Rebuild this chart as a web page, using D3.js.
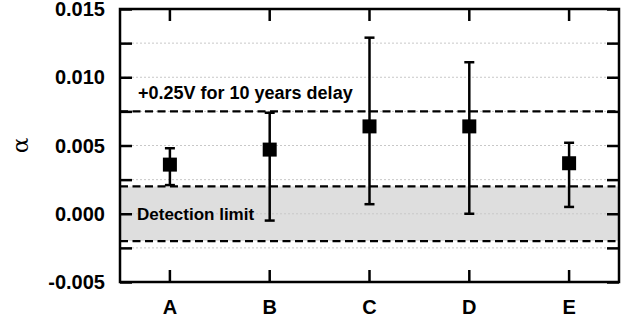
<!DOCTYPE html>
<html>
<head>
<meta charset="utf-8">
<script src="https://cdn.jsdelivr.net/npm/d3@7/dist/d3.min.js"></script>
<style>
  html, body {
    margin: 0;
    padding: 0;
    background: #ffffff;
  }
  svg {
    display: block;
    font-family: "Liberation Sans", Arial, sans-serif;
  }
</style>
</head>
<body>
<div id="chart"></div>
<script>

// data
const categories = ["A", "B", "C", "D", "E"];
const alphaValues = [0.0036, 0.0047, 0.0064, 0.0064, 0.0037];
const errorUpper  = [0.0048, 0.0074, 0.0129, 0.0111, 0.0052];
const errorLower  = [0.0021, -0.0005, 0.0007, 0.0000, 0.0005];

const yTickValues = [-0.005, 0.000, 0.005, 0.010, 0.015];
const yMinorTicks = [-0.0025, 0.0025, 0.0075, 0.0125];
const yDomain = [-0.005, 0.015];

const detectionLimit = [-0.002, 0.002];
const delayLine = 0.0075;
const delayLabel = "+0.25V for 10 years delay";
const detectionLabel = "Detection limit";
const yLabel = "\u03B1";

const width = 629;
const height = 323;

const margin = { top: 9, right: 10, bottom: 41, left: 120 };

const svg = d3.select("#chart")
  .append("svg")
  .attr("width", width)
  .attr("height", height);

const x = d3.scaleBand()
  .domain(categories)
  .range([margin.left, width - margin.right])
  .padding(0);

const y = d3.scaleLinear()
  .domain(yDomain)
  .range([height - margin.bottom, margin.top]);

const plotLeft = margin.left;
const plotRight = width - margin.right;
const plotTop = margin.top;
const plotBottom = height - margin.bottom;
const tickLen = 12;

// detection limit band
svg.append("rect")
  .attr("x", plotLeft)
  .attr("y", y(detectionLimit[1]))
  .attr("width", plotRight - plotLeft)
  .attr("height", y(detectionLimit[0]) - y(detectionLimit[1]))
  .attr("fill", "#dedede");

// dotted grid lines
const gridValues = yTickValues.concat(yMinorTicks)
  .filter(v => v > yDomain[0] && v < yDomain[1]);

svg.append("g")
  .selectAll("line")
  .data(gridValues)
  .join("line")
  .attr("x1", plotLeft)
  .attr("x2", plotRight)
  .attr("y1", d => y(d))
  .attr("y2", d => y(d))
  .attr("stroke", "#c8c8c8")
  .attr("stroke-width", 1)
  .attr("stroke-dasharray", "2,2");

// dashed reference lines
const dashed = [delayLine, detectionLimit[0], detectionLimit[1]];

svg.append("g")
  .selectAll("line")
  .data(dashed)
  .join("line")
  .attr("x1", plotLeft)
  .attr("x2", plotRight)
  .attr("y1", d => y(d))
  .attr("y2", d => y(d))
  .attr("stroke", "#000")
  .attr("stroke-width", 2.2)
  .attr("stroke-dasharray", "8,4.5");

// annotations
svg.append("text")
  .attr("x", plotLeft + 18)
  .attr("y", y(delayLine) - 12)
  .attr("font-size", 18)
  .attr("font-weight", "bold")
  .text(delayLabel);

svg.append("text")
  .attr("x", plotLeft + 17)
  .attr("y", y(0) + 6)
  .attr("font-size", 17)
  .attr("font-weight", "bold")
  .text(detectionLabel);

// axes: inward ticks on all four sides
const allYTicks = yTickValues.concat(yMinorTicks);

const yLeft = d3.axisRight(y)
  .tickValues(allYTicks)
  .tickSize(tickLen)
  .tickFormat("");

svg.append("g")
  .attr("transform", `translate(${plotLeft},0)`)
  .call(yLeft)
  .call(g => g.select(".domain").remove())
  .selectAll("line")
  .attr("stroke-width", 2.5);

const yRight = d3.axisLeft(y)
  .tickValues(allYTicks)
  .tickSize(tickLen)
  .tickFormat("");

svg.append("g")
  .attr("transform", `translate(${plotRight},0)`)
  .call(yRight)
  .call(g => g.select(".domain").remove())
  .selectAll("line")
  .attr("stroke-width", 2.5);

const xBottom = d3.axisTop(x)
  .tickSize(tickLen)
  .tickFormat("");

svg.append("g")
  .attr("transform", `translate(0,${plotBottom})`)
  .call(xBottom)
  .call(g => g.select(".domain").remove())
  .selectAll("line")
  .attr("stroke-width", 2.5);

const xTop = d3.axisBottom(x)
  .tickSize(tickLen)
  .tickFormat("");

svg.append("g")
  .attr("transform", `translate(0,${plotTop})`)
  .call(xTop)
  .call(g => g.select(".domain").remove())
  .selectAll("line")
  .attr("stroke-width", 2.5);

// y tick labels
svg.append("g")
  .selectAll("text")
  .data(yTickValues)
  .join("text")
  .attr("x", plotLeft - 15)
  .attr("y", d => y(d))
  .attr("dy", "0.36em")
  .attr("text-anchor", "end")
  .attr("font-size", 20)
  .attr("font-weight", "bold")
  .text(d => d3.format(".3f")(d).replace("\u2212", "-"));

// x tick labels
svg.append("g")
  .selectAll("text")
  .data(categories)
  .join("text")
  .attr("x", d => x(d) + x.bandwidth() / 2)
  .attr("y", plotBottom + 32)
  .attr("text-anchor", "middle")
  .attr("font-size", 20)
  .attr("font-weight", "bold")
  .text(d => d);

// y axis label
svg.append("text")
  .attr("transform", `translate(28,${(plotTop + plotBottom) / 2}) rotate(-90)`)
  .attr("text-anchor", "middle")
  .attr("font-family", "DejaVu Serif, serif")
  .attr("font-size", 23)
  .text(yLabel);

// frame
svg.append("rect")
  .attr("x", plotLeft)
  .attr("y", plotTop)
  .attr("width", plotRight - plotLeft)
  .attr("height", plotBottom - plotTop)
  .attr("fill", "none")
  .attr("stroke", "#000")
  .attr("stroke-width", 2.5);

// error bars and markers
const points = categories.map((c, i) => ({
  cat: c,
  value: alphaValues[i],
  hi: errorUpper[i],
  lo: errorLower[i]
}));

const cx = d => x(d.cat) + x.bandwidth() / 2;
const capW = 5;
const markerSize = 14;

const bars = svg.append("g");

bars.selectAll(".stem")
  .data(points)
  .join("line")
  .attr("x1", cx)
  .attr("x2", cx)
  .attr("y1", d => y(d.hi))
  .attr("y2", d => y(d.lo))
  .attr("stroke", "#000")
  .attr("stroke-width", 2.5);

["hi", "lo"].forEach(k => {
  bars.selectAll(".cap-" + k)
    .data(points)
    .join("line")
    .attr("class", "cap-" + k)
    .attr("x1", d => cx(d) - capW)
    .attr("x2", d => cx(d) + capW)
    .attr("y1", d => y(d[k]))
    .attr("y2", d => y(d[k]))
    .attr("stroke", "#000")
    .attr("stroke-width", 2.5);
});

bars.selectAll("rect")
  .data(points)
  .join("rect")
  .attr("x", d => cx(d) - markerSize / 2)
  .attr("y", d => y(d.value) - markerSize / 2)
  .attr("width", markerSize)
  .attr("height", markerSize)
  .attr("fill", "#000");

</script>
</body>
</html>
